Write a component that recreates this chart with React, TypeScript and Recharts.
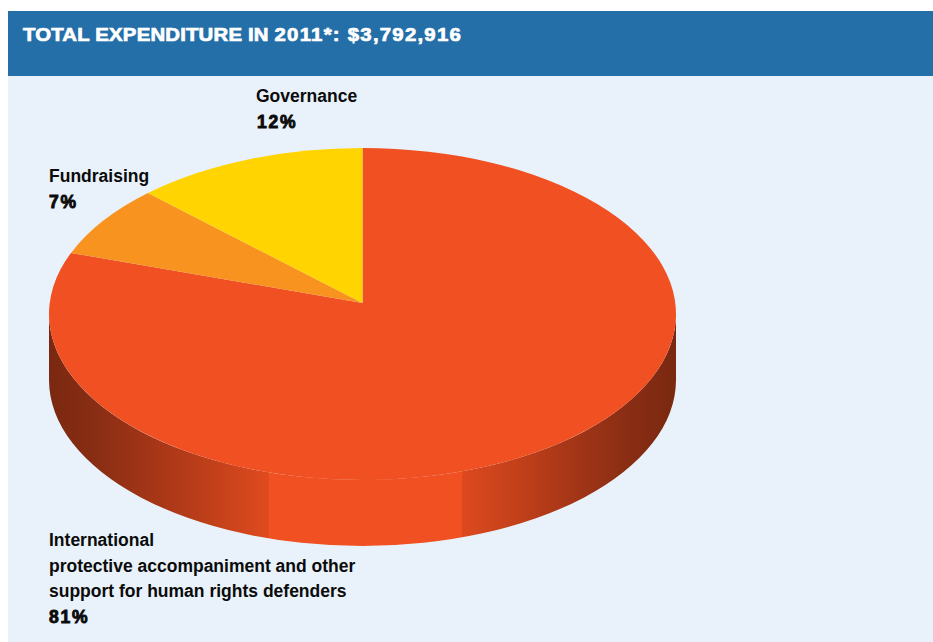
import { PieChart, Pie, Cell } from "recharts";

const categories = [
  "International protective accompaniment and other support for human rights defenders",
  "Fundraising",
  "Governance",
];
const shares = [81, 7, 12];
const sliceColors = ["#f15022", "#f8931f", "#ffd400"];
const wallData = [{ name: "wall", value: 1 }];
const titleWords = "TOTAL EXPENDITURE IN ";
const titleAmount = "2011*: $3,792,916";

const chartData = categories.map((name, i) => ({
  name,
  value: shares[i],
  color: sliceColors[i],
}));

// squash factor of the disc and height of its side wall
const RY_RATIO = 166 / 313.5;
const DEPTH = 66;
const APEX_SHIFT = 11;

function EllipseSlice(props: any) {
  const { cx, cy, outerRadius: r, startAngle, endAngle, fill } = props;
  const ry = r * RY_RATIO;
  const point = (deg: number) => {
    const a = (deg * Math.PI) / 180;
    return [cx + r * Math.cos(a), cy - ry * Math.sin(a)];
  };
  const [x0, y0] = point(startAngle);
  const [x1, y1] = point(endAngle);
  const large = Math.abs(startAngle - endAngle) > 180 ? 1 : 0;
  const d = `M${cx},${cy - APEX_SHIFT} L${x0},${y0} A${r},${ry} 0 ${large} 1 ${x1},${y1} Z`;
  return <path d={d} fill={fill} />;
}

function WallShape(props: any) {
  const { cx, cy, outerRadius: r } = props;
  const ry = r * RY_RATIO;
  const d = `M${cx - r},${cy} A${r},${ry} 0 0 0 ${cx + r},${cy} L${cx + r},${cy + DEPTH} A${r},${ry} 0 0 1 ${cx - r},${cy + DEPTH} Z`;
  return <path d={d} fill="url(#wallGradient)" />;
}

const labelFont = { fontFamily: "Liberation Sans, Arial, sans-serif", fontSize: 17.5, fontWeight: 700, fill: "#0b0b0b" };
const pctFont = { ...labelFont, stroke: "#0b0b0b", strokeWidth: 0.9, letterSpacing: 1.8 };

export default function App() {
  return (
    <div style={{ position: "absolute", left: 0, top: 0, width: 933, height: 642, background: "#fff", overflow: "hidden" }}>
      <div style={{ position: "absolute", left: 8, top: 11, width: 925, height: 631, background: "#e9f2fa" }} />
      <div style={{ position: "absolute", left: 8, top: 11, width: 925, height: 65, background: "#256fa8" }} />
      <div
        style={{
          position: "absolute",
          left: 23,
          top: 24,
          color: "#fff",
          fontFamily: "Liberation Sans, Arial, sans-serif",
          fontWeight: 700,
          fontSize: 18.5,
          WebkitTextStroke: "0.7px #fff",
          whiteSpace: "pre",
          transform: "scaleX(1.1)",
          transformOrigin: "left top",
        }}
      >
        <span style={{ letterSpacing: 0.17 }}>{titleWords}</span>
        <span style={{ letterSpacing: 1.13 }}>{titleAmount}</span>
      </div>
      <div style={{ position: "absolute", left: 0, top: 0 }}>
        <PieChart width={933} height={642} margin={{ top: 0, right: 0, bottom: 0, left: 0 }}>
          <defs>
            <linearGradient id="wallGradient" gradientUnits="userSpaceOnUse" x1={49} y1={0} x2={676} y2={0}>
              <stop offset="0" stopColor="#7a2810" />
              <stop offset="0.08" stopColor="#8a2e14" />
              <stop offset="0.16" stopColor="#a33517" />
              <stop offset="0.26" stopColor="#c1401a" />
              <stop offset="0.35" stopColor="#e04a1f" />
              <stop offset="0.351" stopColor="#f15022" />
              <stop offset="0.658" stopColor="#f15022" />
              <stop offset="0.659" stopColor="#dd491e" />
              <stop offset="0.75" stopColor="#c1401a" />
              <stop offset="0.84" stopColor="#a33517" />
              <stop offset="0.92" stopColor="#8a2e14" />
              <stop offset="1" stopColor="#7a2810" />
            </linearGradient>
          </defs>
          <Pie
            data={wallData}
            dataKey="value"
            cx={362.5}
            cy={314}
            outerRadius={313.5}
            shape={WallShape}
            isAnimationActive={false}
          />
          <Pie
            data={chartData}
            dataKey="value"
            nameKey="name"
            cx={362.5}
            cy={314}
            innerRadius={0}
            outerRadius={313.5}
            startAngle={90}
            endAngle={-270}
            paddingAngle={0}
            shape={EllipseSlice}
            isAnimationActive={false}
          >
            {chartData.map((entry, index) => (
              <Cell key={`cell-${index}`} fill={entry.color} />
            ))}
          </Pie>
          <text x={256} y={102} {...labelFont}>Governance</text>
          <text x={257} y={128} {...pctFont}>12%</text>
          <text x={49} y={182} {...labelFont}>Fundraising</text>
          <text x={49} y={208} {...pctFont}>7%</text>
          <text x={49} y={546} {...labelFont}>International</text>
          <text x={49} y={572} {...labelFont}>protective accompaniment and other</text>
          <text x={49} y={597} {...labelFont}>support for human rights defenders</text>
          <text x={49} y={623} {...pctFont}>81%</text>
        </PieChart>
      </div>
    </div>
  );
}
